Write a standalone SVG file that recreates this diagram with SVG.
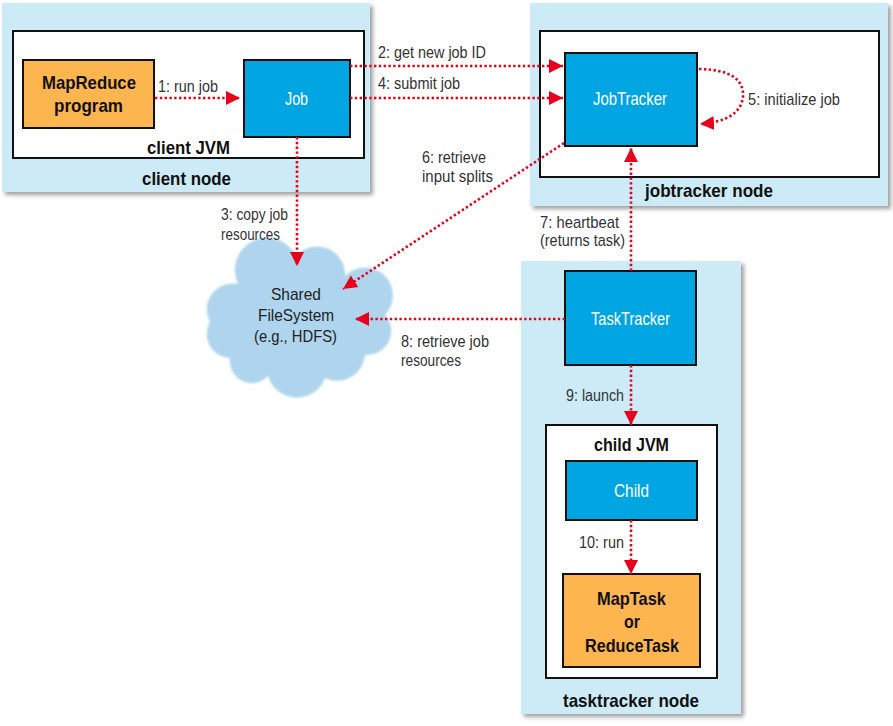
<svg xmlns="http://www.w3.org/2000/svg" width="893" height="726" viewBox="0 0 893 726">
<style>
text{font-family:"Liberation Sans",Arial,sans-serif}
.host{fill:#cdebf7;filter:url(#sh)}
.jvm{fill:#fff;stroke:#111;stroke-width:2}
.blue{fill:#00a5e1;stroke:#111;stroke-width:2}
.orange{fill:#fdb54f;stroke:#111;stroke-width:2}
.wt{fill:#fff;font-size:19px}
.bt{fill:#111;font-size:19px;font-weight:bold}
.lbl{fill:#333;font-size:17px}
.ct{fill:#222;font-size:17px}
.c{fill:none;stroke:#e8001c;stroke-width:2.6;stroke-dasharray:2.4 2.4;marker-end:url(#ah)}
</style>
<defs>
<filter id="sh" x="-5%" y="-5%" width="115%" height="115%"><feDropShadow dx="3" dy="3" stdDeviation="2" flood-color="#777" flood-opacity="0.7"/></filter>
<filter id="blur"><feGaussianBlur stdDeviation="1.2"/></filter>
<marker id="ah" markerUnits="userSpaceOnUse" markerWidth="16" markerHeight="16" refX="14" refY="8" orient="auto"><path d="M0,1 L14,8 L0,15 Z" fill="#e8001c"/></marker>
</defs>
<g id="client-node">
<rect class="host" x="2" y="3" width="368" height="189"/>
<text class="bt" x="142" y="185" textLength="89" lengthAdjust="spacingAndGlyphs">client node</text>
</g>
<g id="client-jvm">
<rect class="jvm" x="13" y="31" width="351" height="127"/>
<text class="bt" x="147" y="154" textLength="83" lengthAdjust="spacingAndGlyphs">client JVM</text>
</g>
<g id="mapreduce-program">
<rect class="orange" x="23" y="60" width="131" height="68"/>
<text class="bt" x="42" y="89" textLength="94" lengthAdjust="spacingAndGlyphs">MapReduce</text>
<text class="bt" x="54" y="112" textLength="69" lengthAdjust="spacingAndGlyphs">program</text>
</g>
<g id="job">
<rect class="blue" x="244" y="60" width="106" height="77"/>
<text class="wt" x="285" y="105" textLength="23" lengthAdjust="spacingAndGlyphs">Job</text>
</g>
<g id="jobtracker-node">
<rect class="host" x="530" y="3" width="358" height="203"/>
<text class="bt" x="645" y="197" textLength="128" lengthAdjust="spacingAndGlyphs">jobtracker node</text>
</g>
<g id="jobtracker-jvm">
<rect class="jvm" x="540" y="31" width="339" height="146"/>
</g>
<g id="jobtracker">
<rect class="blue" x="565" y="53" width="132" height="93"/>
<text class="wt" x="593" y="105" textLength="74" lengthAdjust="spacingAndGlyphs">JobTracker</text>
</g>
<g id="tasktracker-node">
<rect class="host" x="521" y="261" width="220" height="453"/>
<text class="bt" x="563" y="707" textLength="136" lengthAdjust="spacingAndGlyphs">tasktracker node</text>
</g>
<g id="tasktracker">
<rect class="blue" x="565" y="271" width="131" height="94"/>
<text class="wt" x="591" y="325" textLength="79" lengthAdjust="spacingAndGlyphs">TaskTracker</text>
</g>
<g id="child-jvm">
<rect class="jvm" x="546" y="425" width="171" height="253"/>
<text class="bt" x="594" y="451" textLength="75" lengthAdjust="spacingAndGlyphs">child JVM</text>
</g>
<g id="child">
<rect class="blue" x="566" y="461" width="131" height="59"/>
<text class="wt" x="614" y="497" textLength="35" lengthAdjust="spacingAndGlyphs">Child</text>
</g>
<g id="task">
<rect class="orange" x="563" y="574" width="137" height="93"/>
<text class="bt" x="597" y="605" textLength="69" lengthAdjust="spacingAndGlyphs">MapTask</text>
<text class="bt" x="624" y="628" textLength="16" lengthAdjust="spacingAndGlyphs">or</text>
<text class="bt" x="585" y="652" textLength="94" lengthAdjust="spacingAndGlyphs">ReduceTask</text>
</g>
<g id="shared-filesystem">
<path d="M230 358 A24 24 0 0 1 210 322 A26 26 0 0 1 238 284 A32 32 0 0 1 296 256 A28 28 0 0 1 345 276 A26 26 0 0 1 385 315 A24 24 0 0 1 365 355 A28 28 0 0 1 325 378 A30 30 0 0 1 268 376 A22 22 0 0 1 230 358 Z" fill="#aed5ed" filter="url(#blur)"/>
<text class="ct" x="271" y="300" textLength="50" lengthAdjust="spacingAndGlyphs">Shared</text>
<text class="ct" x="258" y="321" textLength="76" lengthAdjust="spacingAndGlyphs">FileSystem</text>
<text class="ct" x="254" y="342" textLength="83" lengthAdjust="spacingAndGlyphs">(e.g., HDFS)</text>
</g>
<g id="connectors">
<path class="c" d="M155 98 L240 98"/>
<text class="lbl" x="158" y="92" textLength="60" lengthAdjust="spacingAndGlyphs">1: run job</text>
<path class="c" d="M350 66 L563 66"/>
<text class="lbl" x="378" y="58" textLength="108" lengthAdjust="spacingAndGlyphs">2: get new job ID</text>
<path class="c" d="M297 137 L297 266"/>
<text class="lbl" x="221" y="220" textLength="67" lengthAdjust="spacingAndGlyphs">3: copy job</text>
<text class="lbl" x="221" y="240" textLength="59" lengthAdjust="spacingAndGlyphs">resources</text>
<path class="c" d="M350 98 L563 98"/>
<text class="lbl" x="378" y="89" textLength="82" lengthAdjust="spacingAndGlyphs">4: submit job</text>
<path class="c" d="M699 69 Q745 70 743 97 Q740 121 700 124"/>
<text class="lbl" x="748" y="105" textLength="92" lengthAdjust="spacingAndGlyphs">5: initialize job</text>
<path class="c" d="M564 143 L343 289"/>
<text class="lbl" x="422" y="163" textLength="64" lengthAdjust="spacingAndGlyphs">6: retrieve</text>
<text class="lbl" x="422" y="182" textLength="71" lengthAdjust="spacingAndGlyphs">input splits</text>
<path class="c" d="M631 271 L631 148"/>
<text class="lbl" x="540" y="228" textLength="79" lengthAdjust="spacingAndGlyphs">7: heartbeat</text>
<text class="lbl" x="540" y="246" textLength="85" lengthAdjust="spacingAndGlyphs">(returns task)</text>
<path class="c" d="M565 319 L355 319"/>
<text class="lbl" x="401" y="347" textLength="88" lengthAdjust="spacingAndGlyphs">8: retrieve job</text>
<text class="lbl" x="401" y="366" textLength="60" lengthAdjust="spacingAndGlyphs">resources</text>
<path class="c" d="M631 365 L631 425"/>
<text class="lbl" x="566" y="401" textLength="58" lengthAdjust="spacingAndGlyphs">9: launch</text>
<path class="c" d="M631 520 L631 574"/>
<text class="lbl" x="579" y="548" textLength="45" lengthAdjust="spacingAndGlyphs">10: run</text>
</g>
</svg>
